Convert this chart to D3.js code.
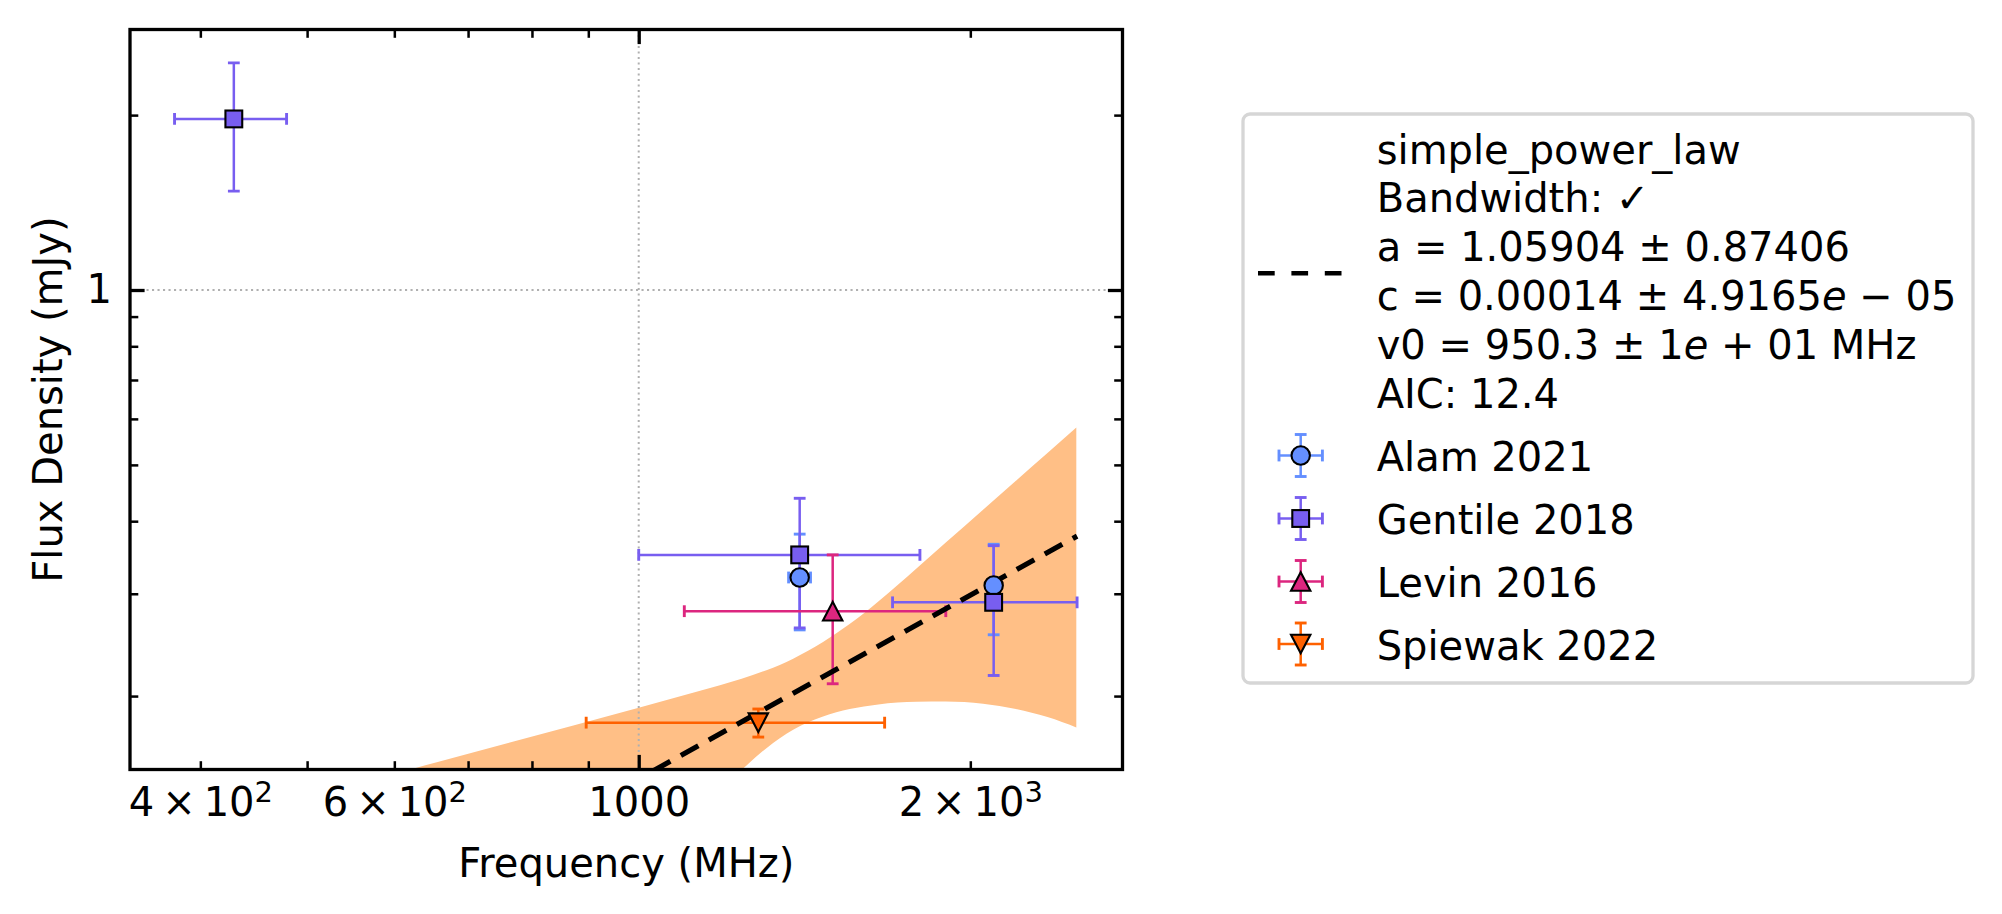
<!DOCTYPE html>
<html>
<head>
<meta charset="utf-8">
<script src="https://cdn.jsdelivr.net/npm/d3@7/dist/d3.min.js"></script>
<style>
html,body{margin:0;padding:0;background:#fff;}
svg{display:block;}
text{font-family:"DejaVu Sans",sans-serif;fill:#000;}
</style>
</head>
<body>
<svg id="chart" width="2002" height="914"></svg>
<script>
// ---------------- data ----------------
const seriesNames = ["Alam 2021", "Gentile 2018", "Levin 2016", "Spiewak 2022"];
const seriesColors = ["#648FFF", "#785EF0", "#DC267F", "#FE6100"];
const seriesMarkers = ["circle", "square", "triangle", "triangleDown"];

const alamFreq = [1400, 2100];
const alamFreqErr = [32, 25];
const alamFlux = [0.32, 0.31];
const alamFluxErr = [0.06, 0.055];

const gentileFreq = [429, 1400, 2100];
const gentileFreqErr = [50, 400, 400];
const gentileFlux = [1.97, 0.35, 0.29];
const gentileFluxErr = [0.49, 0.088, 0.073];

const levinFreq = [1500];
const levinFreqErr = [400];
const levinFlux = [0.28];
const levinFluxErr = [0.07];

const spiewakFreq = [1284];
const spiewakFreqErr = [388];
const spiewakFlux = [0.18];
const spiewakFluxErr = [0.01];

// fitted simple power law (dashed), read at its visible ends
const fitFreq = [1030, 2500];
const fitFlux = [0.1486, 0.377];

// uncertainty band
const bandFreq = [380, 624, 1000, 1137, 1185, 1240, 1306, 1381, 1470, 1554, 1650, 1787, 1900, 2054, 2200, 2350, 2496];
const bandHigh = [0.116, 0.150, 0.191, 0.2042, 0.2088, 0.2143, 0.2216, 0.232, 0.2477, 0.266, 0.291, 0.3317, 0.3675, 0.4186, 0.4695, 0.5241, 0.5796];
const bandLow  = [0.02, 0.04, 0.09, 0.127, 0.138, 0.1493, 0.1627, 0.175, 0.1845, 0.190, 0.1935, 0.1955, 0.1957, 0.194, 0.190, 0.184, 0.1766];

// axes
const xDomain = [345.3, 2749];
const yDomain = [0.1495, 2.808];
const xMajorTicks = [1000];
const xMinorTicks = [400, 500, 600, 700, 800, 900, 2000];
const xLabelTicks = [400, 600, 1000, 2000];
const xTickLabels = ["4×10^2", "6×10^2", "1000", "2×10^3"];
const yMajorTicks = [1];
const yMinorTicks = [0.2, 0.3, 0.4, 0.5, 0.6, 0.7, 0.8, 0.9, 2];
const yTickLabels = ["1"];
const xTitle = "Frequency (MHz)";
const yTitle = "Flux Density (mJy)";

const legendFitLines = [
  "simple_power_law",
  "Bandwidth: ✓",
  "a = 1.05904 ± 0.87406",
  "c = 0.00014 ± 4.9165{e} − 05",
  "v0 = 950.3 ± 1{e} + 01 MHz",
  "AIC: 12.4"
];

// ---------------- layout ----------------
const P = {left: 130, right: 1122.5, top: 29.5, bottom: 769.5};
const FS = 40;

const svg = d3.select("#chart");
const x = d3.scaleLog().domain(xDomain).range([P.left, P.right]);
const y = d3.scaleLog().domain(yDomain).range([P.bottom, P.top]);

svg.append("defs").append("clipPath").attr("id", "plotclip")
  .append("rect").attr("x", P.left).attr("y", P.top)
  .attr("width", P.right - P.left).attr("height", P.bottom - P.top);

const plot = svg.append("g").attr("clip-path", "url(#plotclip)");

// band
const bandData = bandFreq.map((f, i) => ({f, hi: bandHigh[i], lo: bandLow[i]}));
plot.append("path")
  .datum(bandData)
  .attr("d", d3.area().curve(d3.curveMonotoneX)
    .x(d => x(d.f)).y0(d => y(d.lo)).y1(d => y(d.hi)))
  .attr("fill", "#ffbf86");

// grid at major ticks
plot.selectAll(".gx").data(xMajorTicks).join("line")
  .attr("x1", d => x(d)).attr("x2", d => x(d))
  .attr("y1", P.top).attr("y2", P.bottom)
  .attr("stroke", "#b0b0b0").attr("stroke-width", 2).attr("stroke-dasharray", "2.1 3.4");
plot.selectAll(".gy").data(yMajorTicks).join("line")
  .attr("y1", d => y(d)).attr("y2", d => y(d))
  .attr("x1", P.left).attr("x2", P.right)
  .attr("stroke", "#b0b0b0").attr("stroke-width", 2).attr("stroke-dasharray", "2.1 3.4");

// series assembly
const seriesData = [
  {freq: alamFreq, fe: alamFreqErr, flux: alamFlux, se: alamFluxErr},
  {freq: gentileFreq, fe: gentileFreqErr, flux: gentileFlux, se: gentileFluxErr},
  {freq: levinFreq, fe: levinFreqErr, flux: levinFlux, se: levinFluxErr},
  {freq: spiewakFreq, fe: spiewakFreqErr, flux: spiewakFlux, se: spiewakFluxErr}
];

const CAP = 5.9;
function errorbar(g, cx, x0, x1, cy, y0, y1, color) {
  const lw = 2.5, cw = 2.9;
  g.append("line").attr("x1", x0).attr("x2", x1).attr("y1", cy).attr("y2", cy)
    .attr("stroke", color).attr("stroke-width", lw);
  g.append("line").attr("x1", cx).attr("x2", cx).attr("y1", y0).attr("y2", y1)
    .attr("stroke", color).attr("stroke-width", lw);
  [x0, x1].forEach(xx => g.append("line").attr("x1", xx).attr("x2", xx)
    .attr("y1", cy - CAP).attr("y2", cy + CAP).attr("stroke", color).attr("stroke-width", cw));
  [y0, y1].forEach(yy => g.append("line").attr("y1", yy).attr("y2", yy)
    .attr("x1", cx - CAP).attr("x2", cx + CAP).attr("stroke", color).attr("stroke-width", cw));
}

function marker(g, type, cx, cy, color) {
  let el;
  if (type === "circle") {
    el = g.append("circle").attr("cx", cx).attr("cy", cy).attr("r", 9.2);
  } else if (type === "square") {
    const s = 16.8;
    el = g.append("rect").attr("x", cx - s / 2).attr("y", cy - s / 2).attr("width", s).attr("height", s);
  } else if (type === "triangle") {
    const w = 19.4, h = 18.6;
    el = g.append("path").attr("d", `M${cx},${cy - h / 2}L${cx - w / 2},${cy + h / 2}L${cx + w / 2},${cy + h / 2}Z`);
  } else {
    const w = 19.4, h = 18.6;
    el = g.append("path").attr("d", `M${cx},${cy + h / 2}L${cx - w / 2},${cy - h / 2}L${cx + w / 2},${cy - h / 2}Z`);
  }
  el.attr("fill", color).attr("stroke", "#000").attr("stroke-width", 2.1).attr("stroke-linejoin", "miter");
}

// error bars
const ebG = plot.append("g");
seriesData.forEach((s, k) => {
  s.freq.forEach((f, i) => {
    errorbar(ebG, x(f), x(f - s.fe[i]), x(f + s.fe[i]), y(s.flux[i]),
      y(s.flux[i] - s.se[i]), y(s.flux[i] + s.se[i]), seriesColors[k]);
  });
});

// fit line
plot.append("path")
  .datum(fitFreq.map((f, i) => [f, fitFlux[i]]))
  .attr("d", d3.line().x(d => x(d[0])).y(d => y(d[1])))
  .attr("fill", "none").attr("stroke", "#000").attr("stroke-width", 5.2)
  .attr("stroke-dasharray", "20 12");

// markers
const mkG = plot.append("g");
seriesData.forEach((s, k) => {
  s.freq.forEach((f, i) => marker(mkG, seriesMarkers[k], x(f), y(s.flux[i]), seriesColors[k]));
});

// ---------------- axes ----------------
const MAJ = 14.6, MIN = 8.3;
function styleAxis(g, w) {
  g.select(".domain").remove();
  g.selectAll(".tick line").attr("stroke", "#000").attr("stroke-width", w);
}
// bottom
styleAxis(svg.append("g").attr("transform", `translate(0,${P.bottom})`)
  .call(d3.axisBottom(x).tickValues(xMajorTicks).tickSizeInner(-MAJ).tickSizeOuter(0).tickFormat("")), 3.3);
styleAxis(svg.append("g").attr("transform", `translate(0,${P.bottom})`)
  .call(d3.axisBottom(x).tickValues(xMinorTicks).tickSizeInner(-MIN).tickSizeOuter(0).tickFormat("")), 2.5);
// top
styleAxis(svg.append("g").attr("transform", `translate(0,${P.top})`)
  .call(d3.axisTop(x).tickValues(xMajorTicks).tickSizeInner(-MAJ).tickSizeOuter(0).tickFormat("")), 3.3);
styleAxis(svg.append("g").attr("transform", `translate(0,${P.top})`)
  .call(d3.axisTop(x).tickValues(xMinorTicks).tickSizeInner(-MIN).tickSizeOuter(0).tickFormat("")), 2.5);
// left
styleAxis(svg.append("g").attr("transform", `translate(${P.left},0)`)
  .call(d3.axisLeft(y).tickValues(yMajorTicks).tickSizeInner(-MAJ).tickSizeOuter(0).tickFormat("")), 3.3);
styleAxis(svg.append("g").attr("transform", `translate(${P.left},0)`)
  .call(d3.axisLeft(y).tickValues(yMinorTicks).tickSizeInner(-MIN).tickSizeOuter(0).tickFormat("")), 2.5);
// right
styleAxis(svg.append("g").attr("transform", `translate(${P.right},0)`)
  .call(d3.axisRight(y).tickValues(yMajorTicks).tickSizeInner(-MAJ).tickSizeOuter(0).tickFormat("")), 3.3);
styleAxis(svg.append("g").attr("transform", `translate(${P.right},0)`)
  .call(d3.axisRight(y).tickValues(yMinorTicks).tickSizeInner(-MIN).tickSizeOuter(0).tickFormat("")), 2.5);

// x tick labels
const xl = svg.append("g").attr("transform", `translate(0,${P.bottom})`)
  .call(d3.axisBottom(x).tickValues(xLabelTicks).tickSize(0).tickPadding(18.2)
    .tickFormat((d, i) => xTickLabels[i]));
xl.select(".domain").remove();
xl.attr("font-family", null).attr("font-size", null);
xl.selectAll("text").attr("font-size", FS).attr("fill", "#000").each(function () {
  const t = d3.select(this);
  const s = t.text();
  if (s.includes("^")) {
    const [base, ex] = s.split("^");
    t.text(null);
    const parts = base.split("×");
    t.append("tspan").text(parts[0] + "\u2009×\u2009" + parts[1]);
    t.append("tspan").attr("font-size", 29).attr("dy", -14.5).text(ex);
  }
});

// y tick labels
const yl = svg.append("g").attr("transform", `translate(${P.left},0)`)
  .call(d3.axisLeft(y).tickValues(yMajorTicks).tickSize(0).tickPadding(18)
    .tickFormat((d, i) => yTickLabels[i]));
yl.select(".domain").remove();
yl.attr("font-family", null).attr("font-size", null);
yl.selectAll("text").attr("font-size", FS).attr("fill", "#000");

// spines
svg.append("rect").attr("x", P.left).attr("y", P.top)
  .attr("width", P.right - P.left).attr("height", P.bottom - P.top)
  .attr("fill", "none").attr("stroke", "#000").attr("stroke-width", 3.3);

// axis titles
svg.append("text").attr("x", (P.left + P.right) / 2).attr("y", 876.7)
  .attr("text-anchor", "middle").attr("font-size", FS).text(xTitle);
svg.append("text").attr("transform", `translate(61.7,${(P.top + P.bottom) / 2}) rotate(-90)`)
  .attr("text-anchor", "middle").attr("font-size", FS).text(yTitle);

// ---------------- legend ----------------
const L = svg.append("g");
L.append("rect").attr("x", 1243).attr("y", 114).attr("width", 730).attr("height", 569)
  .attr("rx", 7).attr("ry", 7)
  .attr("fill", "#fff").attr("stroke", "#d6d6d6").attr("stroke-width", 3.3);

const handleX = 1300.7, textX = 1376.7;
L.append("line").attr("x1", 1258).attr("x2", 1342).attr("y1", 273.3).attr("y2", 273.3)
  .attr("stroke", "#000").attr("stroke-width", 4.4).attr("stroke-dasharray", "16.7 16.7");

legendFitLines.forEach((line, i) => {
  const t = L.append("text").attr("x", textX).attr("y", 163.5 + 48.9 * i).attr("font-size", FS);
  line.split(/(\{e\})/).forEach(part => {
    if (part === "{e}") t.append("tspan").attr("font-style", "italic").text("e");
    else if (part.length) t.append("tspan").text(part);
  });
});

const entryBase = [471, 534, 597, 659.5];
seriesNames.forEach((name, k) => {
  const cy = entryBase[k] - 15.5;
  const g = L.append("g");
  errorbar(g, handleX, handleX - 21.7, handleX + 21.7, cy, cy + 21, cy - 21, seriesColors[k]);
  marker(g, seriesMarkers[k], handleX, cy, seriesColors[k]);
  L.append("text").attr("x", textX).attr("y", entryBase[k]).attr("font-size", FS).text(name);
});
</script>
</body>
</html>
